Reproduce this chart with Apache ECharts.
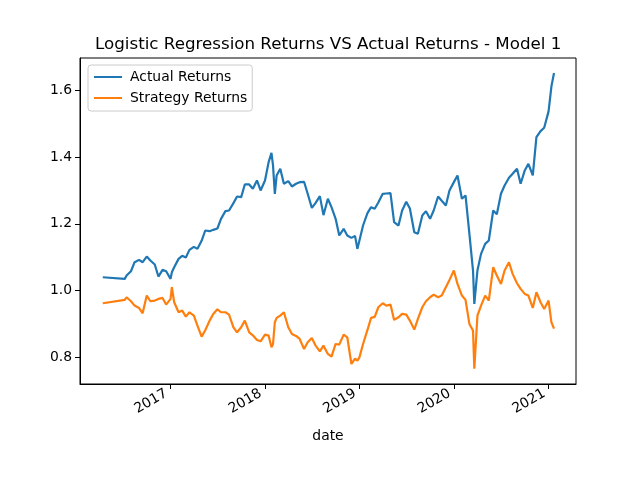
<!DOCTYPE html>
<html>
<head>
<meta charset="utf-8">
<script src="https://cdn.jsdelivr.net/npm/echarts@6.0.0/dist/echarts.min.js"></script>
<style>
  html, body { margin: 0; padding: 0; background: #ffffff; }
  #chart { width: 640px; height: 480px; }
</style>
</head>
<body>
<div id="chart"></div>
<script>
// dates (semi-monthly, plus a few turning points)
var dates = [
    '2016-04-14', '2016-07-08', '2016-07-15', '2016-08-01', '2016-08-15', '2016-09-01', '2016-09-15', '2016-10-01', '2016-10-15', '2016-11-01', '2016-11-15', '2016-12-01', '2016-12-15',
    '2017-01-01', '2017-01-06', '2017-01-15', '2017-02-01', '2017-02-15', '2017-03-01', '2017-03-15', '2017-04-01', '2017-04-15', '2017-05-01', '2017-05-15', '2017-06-01', '2017-06-15', '2017-07-01', '2017-07-15', '2017-08-01', '2017-08-15', '2017-09-01', '2017-09-15', '2017-10-01', '2017-10-15', '2017-11-01', '2017-11-15', '2017-12-01', '2017-12-15',
    '2018-01-01', '2018-01-15', '2018-01-26', '2018-02-01', '2018-02-08', '2018-02-15', '2018-03-01', '2018-03-15', '2018-04-01', '2018-04-15', '2018-05-01', '2018-05-15', '2018-06-01', '2018-06-15', '2018-07-01', '2018-07-15', '2018-08-01', '2018-08-15', '2018-09-01', '2018-09-15', '2018-10-01', '2018-10-15', '2018-11-01', '2018-11-15', '2018-12-01', '2018-12-15', '2018-12-24',
    '2019-01-01', '2019-01-15', '2019-02-01', '2019-02-15', '2019-03-01', '2019-03-15', '2019-04-01', '2019-04-15', '2019-05-01', '2019-05-15', '2019-06-01', '2019-06-15', '2019-07-01', '2019-07-15', '2019-08-01', '2019-08-15', '2019-09-01', '2019-09-15', '2019-10-01', '2019-10-15', '2019-11-01', '2019-11-15', '2019-12-01', '2019-12-15',
    '2020-01-01', '2020-01-15', '2020-02-01', '2020-02-15', '2020-03-01', '2020-03-15', '2020-03-20', '2020-04-01', '2020-04-15', '2020-05-01', '2020-05-15', '2020-06-01', '2020-06-15', '2020-07-01', '2020-07-15', '2020-08-01', '2020-08-15', '2020-09-01', '2020-09-15', '2020-10-01', '2020-10-15', '2020-11-01', '2020-11-15', '2020-12-01', '2020-12-15',
    '2021-01-01', '2021-01-12', '2021-01-22'
];

var actualReturns = [
    1.040, 1.035, 1.045, 1.058, 1.085, 1.092, 1.085, 1.102, 1.090, 1.078, 1.042, 1.062, 1.058,
    1.035, 1.055, 1.070, 1.095, 1.104, 1.099, 1.122, 1.131, 1.125, 1.149, 1.180, 1.178, 1.182, 1.186, 1.215, 1.238, 1.240, 1.262, 1.282, 1.280, 1.318, 1.318, 1.305, 1.330, 1.300,
    1.330, 1.385, 1.413, 1.375, 1.290, 1.345, 1.365, 1.320, 1.328, 1.312, 1.320, 1.325, 1.326, 1.290, 1.248, 1.262, 1.283, 1.226, 1.275, 1.250, 1.215, 1.165, 1.185, 1.165, 1.158, 1.164, 1.125,
    1.150, 1.195, 1.232, 1.250, 1.245, 1.264, 1.290, 1.291, 1.292, 1.205, 1.195, 1.240, 1.266, 1.246, 1.175, 1.170, 1.225, 1.238, 1.215, 1.240, 1.282, 1.269, 1.255, 1.300,
    1.325, 1.345, 1.275, 1.285, 1.170, 1.060, 0.960, 1.060, 1.110, 1.140, 1.150, 1.240, 1.229, 1.290, 1.315, 1.338, 1.350, 1.365, 1.320, 1.360, 1.380, 1.345, 1.460, 1.478, 1.488,
    1.537, 1.612, 1.652
];

var strategyReturns = [
    0.962, 0.972, 0.980, 0.968, 0.955, 0.948, 0.932, 0.985, 0.968, 0.970, 0.975, 0.978, 0.958,
    0.975, 1.010, 0.965, 0.935, 0.940, 0.922, 0.935, 0.925, 0.895, 0.862, 0.881, 0.910, 0.930, 0.944, 0.935, 0.935, 0.928, 0.890, 0.875, 0.890, 0.910, 0.875, 0.866, 0.852, 0.848,
    0.868, 0.865, 0.830, 0.840, 0.905, 0.918, 0.925, 0.935, 0.890, 0.870, 0.864, 0.855, 0.825, 0.845, 0.858, 0.836, 0.818, 0.835, 0.810, 0.802, 0.840, 0.838, 0.868, 0.860, 0.780, 0.796, 0.790,
    0.800, 0.840, 0.882, 0.918, 0.921, 0.950, 0.962, 0.955, 0.958, 0.912, 0.920, 0.930, 0.928, 0.910, 0.883, 0.915, 0.950, 0.968, 0.980, 0.988, 0.980, 0.985, 1.010, 1.032,
    1.060, 1.020, 0.985, 0.972, 0.900, 0.880, 0.766, 0.925, 0.955, 0.985, 0.970, 1.070, 1.045, 1.020, 1.060, 1.085, 1.050, 1.022, 1.005, 0.990, 0.985, 0.948, 0.995, 0.965, 0.945,
    0.970, 0.905, 0.886
];

var yearTicks = ['2017-01-01', '2018-01-01', '2019-01-01', '2020-01-01', '2021-01-01'];
var yTicks = [0.8, 1.0, 1.2, 1.4, 1.6];
var xRange = ['2016-01-17', '2021-04-17'];

var seriesNames = ['Actual Returns', 'Strategy Returns'];
var colors = ['#1f77b4', '#ff7f0e'];

function toTime(d) {
    return +echarts.time.parse(d);
}

function pairs(values) {
    var out = [];
    for (var i = 0; i < dates.length; i++) {
        out.push([toTime(dates[i]), values[i]]);
    }
    return out;
}

var yearTickValues = yearTicks.map(toTime);
var font = 'DejaVu Sans';

var chart = echarts.init(document.getElementById('chart'), null, { renderer: 'canvas' });

var option = {
    animation: false,
    backgroundColor: '#ffffff',
    color: colors,
    title: {
        text: 'Logistic Regression Returns VS Actual Returns - Model 1',
        left: 95,
        top: 36,
        padding: 0,
        textStyle: { fontFamily: font, fontSize: 16.7, fontWeight: 'normal', color: '#000000' }
    },
    legend: {
        data: seriesNames,
        orient: 'vertical',
        left: 88,
        top: 65,
        padding: [5, 5, 6, 6],
        itemGap: 7,
        itemWidth: 28,
        itemHeight: 2,
        icon: 'rect',
        backgroundColor: 'rgba(255,255,255,0.8)',
        borderColor: '#cccccc',
        borderWidth: 1,
        borderRadius: 3,
        textStyle: { fontFamily: font, fontSize: 13.9, color: '#000000', padding: [0, 0, 0, 3] }
    },
    grid: {
        left: 80,
        right: 64,
        top: 58,
        bottom: 96,
        show: true,
        borderColor: '#000000',
        borderWidth: 1
    },
    xAxis: {
        type: 'value',
        min: toTime(xRange[0]),
        max: toTime(xRange[1]),
        name: 'date',
        nameLocation: 'middle',
        nameGap: 45,
        nameTextStyle: { fontFamily: font, fontSize: 13.9, color: '#000000' },
        axisLine: { show: true, lineStyle: { color: '#000000', width: 1 } },
        axisTick: { show: true, length: 5, customValues: yearTickValues, lineStyle: { color: '#000000' } },
        axisLabel: {
            customValues: yearTickValues,
            rotate: 30,
            margin: 6,
            padding: [0, 5, 0, 0],
            fontFamily: font,
            fontSize: 13.9,
            color: '#000000',
            formatter: function (val) {
                return String(new Date(val).getFullYear());
            }
        },
        splitLine: { show: false }
    },
    yAxis: {
        type: 'value',
        min: 0.720,
        max: 1.697,
        axisLine: { show: true, lineStyle: { color: '#000000', width: 1 } },
        axisTick: { show: true, length: 5, customValues: yTicks, lineStyle: { color: '#000000' } },
        axisLabel: {
            customValues: yTicks,
            margin: 8,
            fontFamily: font,
            fontSize: 13.9,
            color: '#000000',
            formatter: function (val) {
                return val.toFixed(1);
            }
        },
        splitLine: { show: false }
    },
    series: [
        {
            name: seriesNames[0],
            type: 'line',
            symbol: 'none',
            showSymbol: false,
            lineStyle: { width: 2.2, color: colors[0] },
            data: pairs(actualReturns)
        },
        {
            name: seriesNames[1],
            type: 'line',
            symbol: 'none',
            showSymbol: false,
            lineStyle: { width: 2.2, color: colors[1] },
            data: pairs(strategyReturns)
        }
    ]
};

chart.setOption(option);
</script>
</body>
</html>
